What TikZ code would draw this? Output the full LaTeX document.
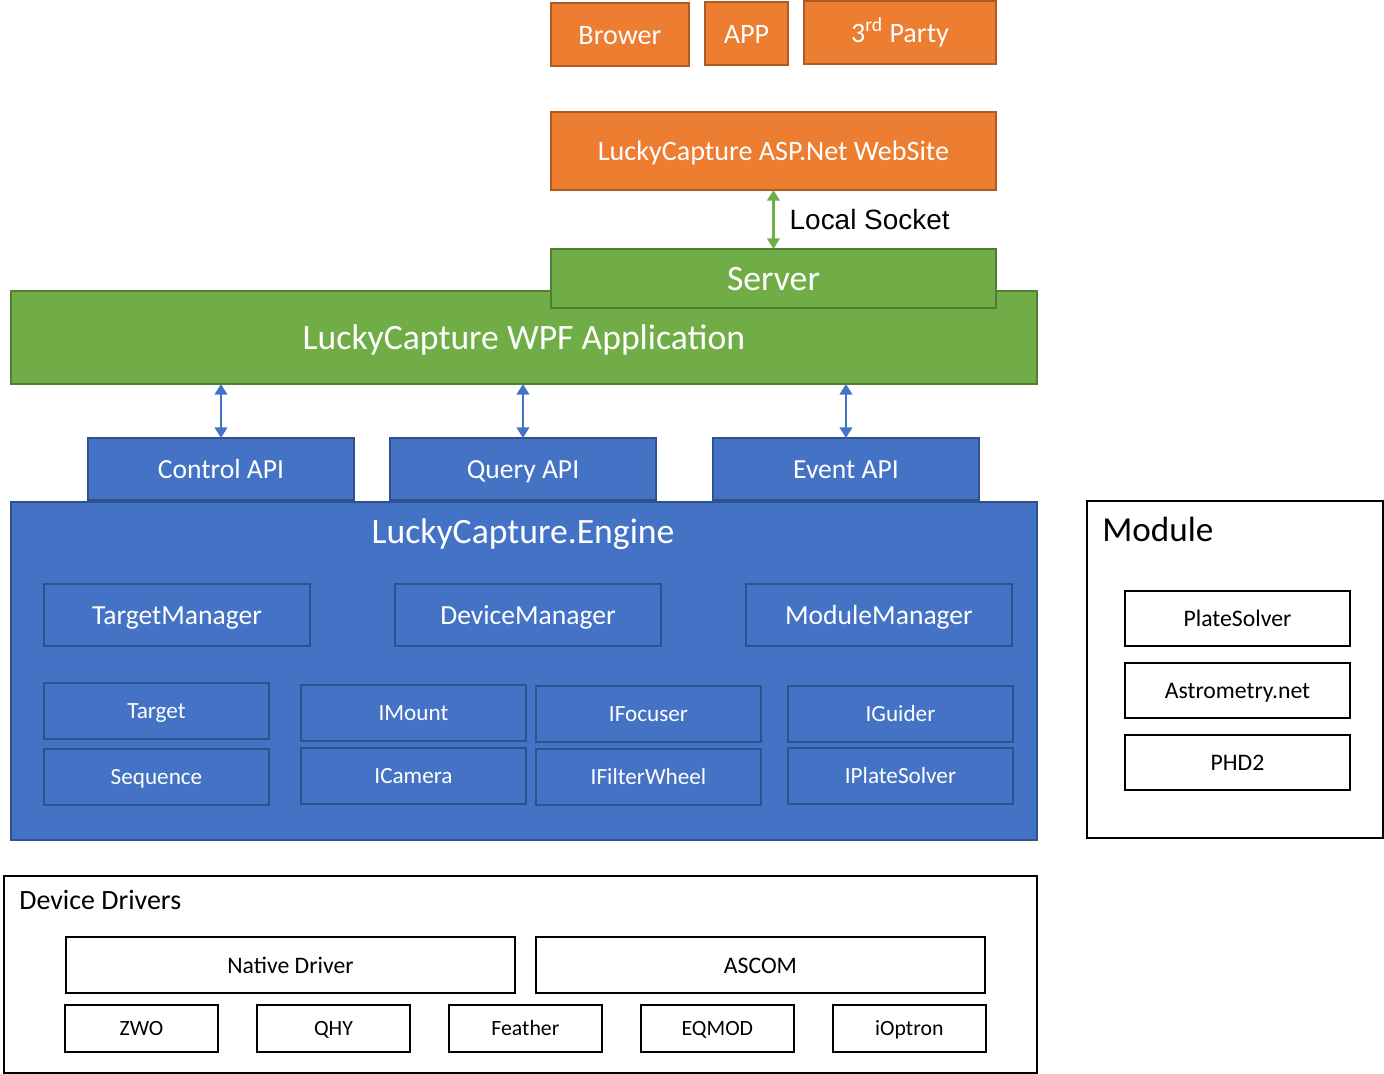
\documentclass[tikz,border=0pt]{standalone}
\usepackage{fontspec}
\setmainfont{Carlito}
\newfontfamily\arialfont{Liberation Sans}
\usepackage{tikz}
\usepackage{xcolor}
\usetikzlibrary{positioning}
\usetikzlibrary{arrows.meta}
\definecolor{orangefill}{RGB}{237, 125, 49}
\definecolor{orangeline}{RGB}{174, 90, 33}
\definecolor{greenfill}{RGB}{112, 173, 71}
\definecolor{greenline}{RGB}{80, 126, 50}
\definecolor{bluefill}{RGB}{68, 114, 196}
\definecolor{blueline}{RGB}{47, 82, 143}
\tikzset{
	officefont/.style={
		font=\fontsize{#1}{#1}\selectfont,
		text height=0.95*#1pt,
		text depth=0.27*#1pt
	},
}
\tikzstyle{orangebox} = [
	officefont=16,
	draw=orangeline,
	fill=orangefill,
	text=white,
	line width=1.2pt,
	inner sep=0pt,
	outer sep=0pt,
	anchor=north west
]
\tikzstyle{greenbox} = [
	officefont=20.3,
	draw=greenline,
	fill=greenfill,
	text=white,
	line width=1.2pt,
	inner sep=0pt,
	outer sep=0pt,
	anchor=north west
]
\tikzstyle{bluebox} = [
	officefont=15.7,
	draw=blueline,
	fill=bluefill,
	text=white,
	line width=1.2pt,
	inner sep=0pt,
	outer sep=0pt,
	anchor=north west
]
\tikzstyle{bluesmall} = [
	bluebox,
	officefont=13.2,
	minimum width=4.5cm,
	minimum height=1.12cm
]
\tikzstyle{plainbox} = [
	officefont=13.5,
	draw=black,
	fill=white,
	line width=1.2pt,
	inner sep=0pt,
	outer sep=0pt,
	anchor=north west
]
\tikzstyle{driverbox} = [
	plainbox,
	officefont=12.4,
	minimum width=3.06cm,
	minimum height=0.94cm
]
\tikzstyle{greenlink} = [
	draw=greenfill,
	line width=1.4pt,
	{Triangle[width=7pt,length=6pt]}-{Triangle[width=7pt,length=6pt]}
]
\tikzstyle{bluelink} = [
	draw=bluefill,
	line width=1.4pt,
	{Triangle[width=7pt,length=6pt]}-{Triangle[width=7pt,length=6pt]}
]

\begin{document}
\begin{tikzpicture}[x=0.02cm, y=-0.02cm]
	\useasboundingbox (0,0) rectangle (1384,1074);
	
	% Clients
	\node[orangebox, minimum width=2.76cm, minimum height=1.26cm] (brower) at (551,3) {Brower};
	\node[orangebox, minimum width=1.66cm, minimum height=1.26cm] (app) at (705,2) {APP};
	\node[orangebox, minimum width=3.84cm, minimum height=1.26cm] (party) at (804,1) {3\textsuperscript{rd} Party};
	\node[orangebox, minimum width=8.9cm, minimum height=1.56cm] (website) at (551,112) {LuckyCapture ASP.Net WebSite};
	
	% Application
	\node[greenbox, minimum width=20.52cm, minimum height=1.86cm] (wpf) at (11,291) {LuckyCapture WPF Application};
	\node[greenbox, minimum width=8.9cm, minimum height=1.18cm] (server) at (551,249) {Server};
	\draw[greenlink] (website.south) -- node[right, inner sep=0pt, xshift=0.3cm, font=\arialfont\fontsize{15.9}{19}\selectfont] (socket) {Local Socket} (server.north);
	
	% APIs
	\node[bluebox, minimum width=5.32cm, minimum height=1.24cm] (control) at (88,438) {Control API};
	\node[bluebox, minimum width=5.32cm, minimum height=1.24cm] (query) at (390,438) {Query API};
	\node[bluebox, minimum width=5.32cm, minimum height=1.24cm] (event) at (713,438) {Event API};
	\draw[bluelink] (control.north) -- (control.north |- wpf.south);
	\draw[bluelink] (query.north) -- (query.north |- wpf.south);
	\draw[bluelink] (event.north) -- (event.north |- wpf.south);
	
	% Engine
	\node[bluebox, minimum width=20.52cm, minimum height=6.76cm] (engine) at (11,502) {};
	\node[officefont=20.3, text=white, inner sep=0pt] (enginetitle) at (523,531) {LuckyCapture.Engine};
	\node[bluebox, minimum width=5.32cm, minimum height=1.24cm] (targetmgr) at (44,584) {TargetManager};
	\node[bluebox, minimum width=5.32cm, minimum height=1.24cm] (devicemgr) at (395,584) {DeviceManager};
	\node[bluebox, minimum width=5.32cm, minimum height=1.24cm] (modulemgr) at (746,584) {ModuleManager};
	\node[bluesmall] (target) at (44,683) {Target};
	\node[bluesmall, below=0.2cm of target.south west, anchor=north west] (sequence) {Sequence};
	\node[bluesmall] (imount) at (301,685) {IMount};
	\node[bluesmall] (icamera) at (301,748) {ICamera};
	\node[bluesmall] (ifocuser) at (536,686) {IFocuser};
	\node[bluesmall] (ifilter) at (536,749) {IFilterWheel};
	\node[bluesmall] (iguider) at (788,686) {IGuider};
	\node[bluesmall] (iplate) at (788,748) {IPlateSolver};
	
	% Module
	\node[plainbox, minimum width=5.92cm, minimum height=6.74cm] (module) at (1087,501) {};
	\node[officefont=20, inner sep=0pt, anchor=west] (moduletitle) at (1102,530) {Module};
	\node[plainbox, minimum width=4.5cm, minimum height=1.1cm] (platesolver) at (1125,591) {PlateSolver};
	\node[plainbox, minimum width=4.5cm, minimum height=1.1cm, below=0.34cm of platesolver.south west, anchor=north west] (astrometry) {Astrometry.net};
	\node[plainbox, minimum width=4.5cm, minimum height=1.1cm, below=0.34cm of astrometry.south west, anchor=north west] (phd) {PHD2};
	
	% Device drivers
	\node[plainbox, minimum width=20.66cm, minimum height=3.94cm] (drivers) at (4,876) {};
	\node[officefont=15.9, inner sep=0pt, anchor=west] (driverstitle) at (19,900) {Device Drivers};
	\node[plainbox, minimum width=8.98cm, minimum height=1.12cm] (native) at (66,937) {Native Driver};
	\node[plainbox, minimum width=8.98cm, minimum height=1.12cm] (ascom) at (536,937) {ASCOM};
	\node[driverbox] (zwo) at (65,1005) {ZWO};
	\node[driverbox, right=0.78cm of zwo.north east, anchor=north west] (qhy) {QHY};
	\node[driverbox, right=0.78cm of qhy.north east, anchor=north west] (feather) {Feather};
	\node[driverbox, right=0.78cm of feather.north east, anchor=north west] (eqmod) {EQMOD};
	\node[driverbox, right=0.78cm of eqmod.north east, anchor=north west] (ioptron) {iOptron};
	
\end{tikzpicture}
\end{document}
